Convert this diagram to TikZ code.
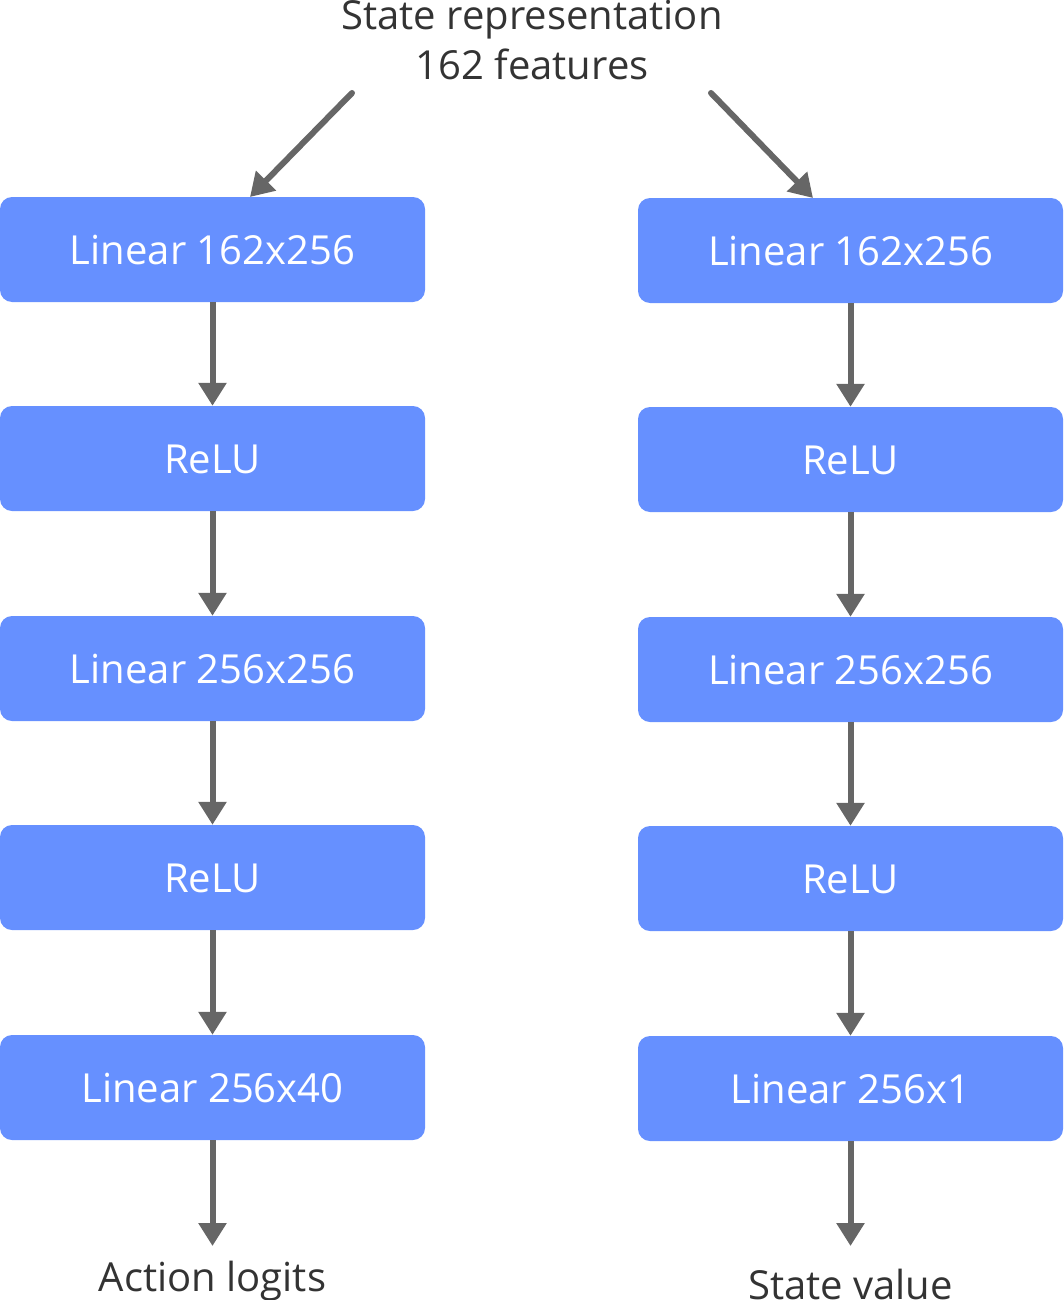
\documentclass[tikz,border=0pt]{standalone}
\usepackage{fontspec}
\setmainfont{Open Sans}
\usetikzlibrary{arrows.meta}
\definecolor{boxblue}{HTML}{6690FF}
\definecolor{arrgray}{HTML}{666666}
\definecolor{txtgray}{HTML}{333333}
\tikzset{
  layer/.style={draw=none, fill=boxblue, rounded corners=12pt, minimum width=425pt, minimum height=105pt,
    text=white, text height=29pt, text depth=0pt, inner sep=0pt, font=\fontsize{40}{50}\selectfont},
  label/.style={text=txtgray, inner sep=0pt, anchor=base, font=\fontsize{40}{50}\selectfont},
  flow/.style={draw=arrgray, line width=6pt, -{Triangle[length=23pt,width=27pt]}},
}
\begin{document}
\begin{tikzpicture}[x=1pt,y=-1pt]
\useasboundingbox (0,0) rectangle (1063,1300);
\node[label] (t1) at (532,30) {State representation};
\node[label] (t2) at (532,80) {162 features};
% left column
\node[layer] (l1) at (212.5,249.5) {Linear 162x256};
\node[layer] (l2) at (212.5,458.5) {ReLU};
\node[layer] (l3) at (212.5,668.5) {Linear 256x256};
\node[layer] (l4) at (212.5,877.5) {ReLU};
\node[layer] (l5) at (212.5,1087.5) {Linear 256x40};
% right column
\node[layer] (r1) at (850.5,250.5) {Linear 162x256};
\node[layer] (r2) at (850.5,459.5) {ReLU};
\node[layer] (r3) at (850.5,669.5) {Linear 256x256};
\node[layer] (r4) at (850.5,878.5) {ReLU};
\node[layer] (r5) at (850.5,1088.5) {Linear 256x1};
\node[label] (outl) at (212.5,1291) {Action logits};
\node[label] (outr) at (850.5,1299) {State value};
\coordinate (sl) at (352,93);
\coordinate (sr) at (711,93);
\coordinate (el) at (250,197);
\coordinate (er) at (813,198);
\coordinate (ol) at (212.5,1246);
\coordinate (or) at (850.5,1246);
\draw[flow, line cap=round] (sl) -- (el);
\draw[flow, line cap=round] (sr) -- (er);
\foreach \a/\b in {l1/l2,l2/l3,l3/l4,l4/l5,r1/r2,r2/r3,r3/r4,r4/r5}
  \draw[flow] (\a.south) -- (\b.north);
\draw[flow] (l5.south) -- (ol);
\draw[flow] (r5.south) -- (or);
\end{tikzpicture}
\end{document}
